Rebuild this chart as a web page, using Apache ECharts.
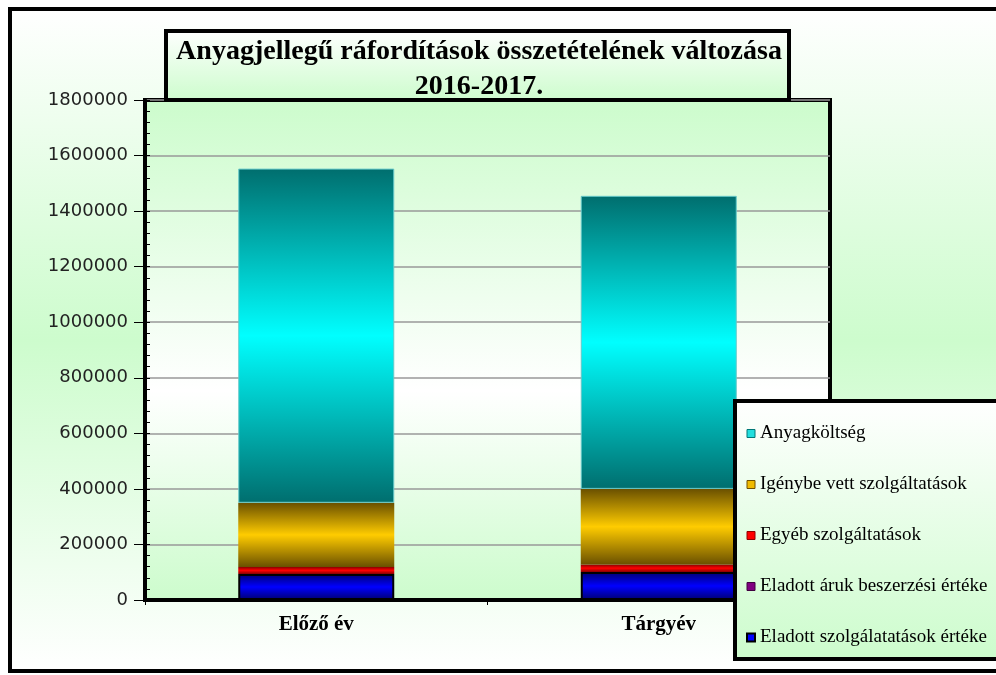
<!DOCTYPE html>
<html>
<head>
<meta charset="utf-8">
<script src="https://cdn.jsdelivr.net/npm/echarts@6/dist/echarts.min.js"></script>
<style>html,body{margin:0;padding:0;background:#fff;}#c{width:996px;height:675px;}</style>
</head>
<body>
<div id="c"></div>
<script>
const categories = ['Előző év', 'Tárgyév'];
const eladottSzolg = [94000, 101000];
const eladottAruk = [0, 0];
const egyebSzolg = [25000, 27000];
const igenybeVett = [231000, 272000];
const anyagkoltseg = [1203000, 1055000];
const titleLines = ['Anyagjellegű ráfordítások összetételének változása', '2016-2017.'];

const G = echarts.graphic.LinearGradient;
function band(dark, light) {
  return new G(0, 0, 0, 1, [
    {offset: 0, color: dark}, {offset: 0.5, color: light}, {offset: 1, color: dark}
  ]);
}
const serif = '"Liberation Serif", "Times New Roman", serif';

const chart = echarts.init(document.getElementById('c'), null, {renderer: 'canvas'});
chart.setOption({
  animation: false,
  backgroundColor: '#ffffff',
  graphic: [
    {type: 'rect', z: -10, shape: {x: 10, y: 9, width: 1000, height: 662},
     style: {fill: new G(0, 0, 0, 1, [{offset: 0, color: '#ffffff'}, {offset: 0.5, color: '#cdfccd'}, {offset: 1, color: '#ffffff'}]),
             stroke: '#000', lineWidth: 4}},
    {type: 'rect', z: 3, shape: {x: 735, y: 401, width: 300, height: 258},
     style: {fill: new G(0, 0, 0, 1, [{offset: 0, color: '#ffffff'}, {offset: 1, color: '#ccfccc'}]),
             stroke: '#000', lineWidth: 4}},
    {type: 'rect', z: 5, shape: {x: 166, y: 31, width: 623, height: 69},
     style: {fill: new G(0, 0, 0, 1, [{offset: 0, color: '#ffffff'}, {offset: 1, color: '#ccfccc'}]),
             stroke: '#000', lineWidth: 4}}
  ],
  title: {
    text: titleLines.join('\n'),
    left: 474, top: 29, textAlign: 'center', z: 6,
    textStyle: {fontFamily: serif, fontWeight: 'bold', fontSize: 28, color: '#000', lineHeight: 35}
  },
  legend: {
    orient: 'vertical', left: 741, top: 419, z: 6,
    itemGap: 32, itemWidth: 8, itemHeight: 8, icon: 'rect',
    textStyle: {fontFamily: serif, fontSize: 19, color: '#000'},
    data: [
      {name: 'Anyagköltség', itemStyle: {color: '#22dede', borderColor: '#007777', borderWidth: 1}},
      {name: 'Igénybe vett szolgáltatások', itemStyle: {color: '#f0bb00', borderColor: '#705000', borderWidth: 1}},
      {name: 'Egyéb szolgáltatások', itemStyle: {color: '#ff0000', borderColor: '#900000', borderWidth: 1}},
      {name: 'Eladott áruk beszerzési értéke', itemStyle: {color: '#800080', borderColor: '#400040', borderWidth: 1}},
      {name: 'Eladott szolgálatatások értéke', itemStyle: {color: '#0000ff', borderColor: '#000000', borderWidth: 2}}
    ]
  },
  grid: {
    left: 145, top: 100, right: 166, bottom: 75, show: true,
    borderColor: '#000', borderWidth: 4,
    backgroundColor: new G(0, 0, 0, 1, [{offset: 0, color: '#ccfccc'}, {offset: 0.58, color: '#ffffff'}, {offset: 1, color: '#ccfccc'}])
  },
  xAxis: {
    type: 'category', data: categories,
    axisLine: {lineStyle: {color: '#000', width: 4}},
    axisTick: {show: true, length: 5, lineStyle: {color: '#000', width: 1}},
    axisLabel: {fontFamily: serif, fontWeight: 'bold', fontSize: 21, color: '#000', margin: 14}
  },
  yAxis: [
    {
      type: 'value', min: 0, max: 1800000, interval: 200000,
      axisLine: {show: true, lineStyle: {color: '#000', width: 4}},
      axisTick: {show: true, length: 11, lineStyle: {color: '#000', width: 1}},
      axisLabel: {fontFamily: '"DejaVu Sans", Verdana, sans-serif', fontSize: 18, color: '#222', margin: 17,
                  formatter: function (v) { return String(v); }},
      splitLine: {show: true, lineStyle: {color: '#999', width: 1.5}}
    },
    {
      type: 'value', position: 'left', min: 0, max: 1800000, interval: 40000,
      axisLine: {show: false},
      axisTick: {show: true, inside: true, length: 5, lineStyle: {color: '#000', width: 1}},
      axisLabel: {show: false},
      splitLine: {show: false}
    }
  ],
  series: [
    {name: 'Eladott szolgálatatások értéke', type: 'bar', stack: 's', data: eladottSzolg, barWidth: 156,
     itemStyle: {color: band('#00006e', '#0000ff'), borderColor: '#000', borderWidth: 2}},
    {name: 'Eladott áruk beszerzési értéke', type: 'bar', stack: 's', data: eladottAruk, barWidth: 156,
     itemStyle: {color: band('#400040', '#800080')}},
    {name: 'Egyéb szolgáltatások', type: 'bar', stack: 's', data: egyebSzolg, barWidth: 156,
     itemStyle: {color: band('#880000', '#ff0000')}},
    {name: 'Igénybe vett szolgáltatások', type: 'bar', stack: 's', data: igenybeVett, barWidth: 156,
     itemStyle: {color: band('#6a5000', '#ffcc00')}},
    {name: 'Anyagköltség', type: 'bar', stack: 's', data: anyagkoltseg, barWidth: 156,
     itemStyle: {color: band('#006e6e', '#00ffff'), borderColor: '#66c8c8', borderWidth: 1}}
  ]
});
</script>
</body>
</html>
